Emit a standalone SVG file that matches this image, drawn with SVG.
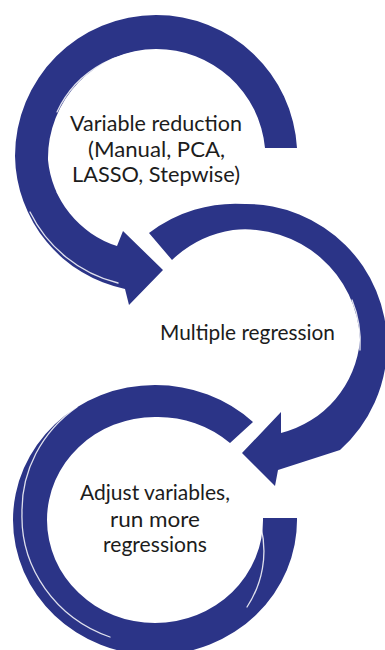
<svg xmlns="http://www.w3.org/2000/svg" width="385" height="650" viewBox="0 0 385 650">
<style>
.arc{fill:#2b3487;stroke:none}
.tex{fill:none;stroke:#ffffff;stroke-width:1.3;stroke-linecap:round;opacity:0.85}
.lbl{font-family:Lato,"Open Sans","Liberation Sans",sans-serif;font-size:21.5px;fill:#1c1c1c}
</style>
<rect width="385" height="650" fill="#ffffff"/>
<g id="connectors">
<g id="arrow-1">
<path class="arc" d="M297,148 A141,141 0 0 0 156,15 A141,141 0 0 0 15,156 A138,138 0 0 0 125,289 L129,305 L163,270 L123,231 L117,246 A100,100 0 0 1 48,160 A109,109 0 0 1 156,49 A109,109 0 0 1 265,148 Z"/>
<path class="tex" d="M168,52 A106,106 0 0 0 57,112"/>
<path class="tex" d="M30,212 A134,134 0 0 0 118,283"/>
<path class="tex" d="M57,192 A98,98 0 0 0 90,222"/>
</g>
<g id="arrow-2">
<path class="arc" d="M149,233 A142,142 0 0 1 245,204 A141,141 0 0 1 387,345 A141,141 0 0 1 340,450 L278,470 L275,486 L242,453 L281,412 L281,433 A105,105 0 0 0 360,340 A115,115 0 0 0 233,230 A113,113 0 0 0 172,260 Z"/>
<path class="tex" d="M352,300 A112,112 0 0 1 360,350"/>
</g>
<g id="arrow-3">
<path class="arc" d="M253,422 A142,135 0 0 0 155,385 A142,135 0 0 0 13,520 A142,135 0 0 0 155,655 A142,135 0 0 0 297,518 L263,518 A108,103 0 0 1 155,623 A108,103 0 0 1 47,520 A108,103 0 0 1 155,417 A108,103 0 0 1 230,443 Z"/>
<path class="tex" d="M77,407 A134,128 0 0 0 22,513 A134,128 0 0 0 110,637"/>
<path class="tex" d="M261,527 A110,105 0 0 1 247,607"/>
</g>
</g>
<g id="node-variable-reduction">
<text class="lbl" x="70" y="131" textLength="172" lengthAdjust="spacingAndGlyphs">Variable reduction</text>
<text class="lbl" x="88" y="157" textLength="137" lengthAdjust="spacingAndGlyphs">(Manual, PCA,</text>
<text class="lbl" x="72" y="182" textLength="168" lengthAdjust="spacingAndGlyphs">LASSO, Stepwise)</text>
</g>
<g id="node-multiple-regression">
<text class="lbl" x="160" y="340" textLength="175" lengthAdjust="spacingAndGlyphs">Multiple regression</text>
</g>
<g id="node-adjust">
<text class="lbl" x="80" y="500" textLength="150" lengthAdjust="spacingAndGlyphs">Adjust variables,</text>
<text class="lbl" x="110" y="527" textLength="90" lengthAdjust="spacingAndGlyphs">run more</text>
<text class="lbl" x="103" y="552" textLength="104" lengthAdjust="spacingAndGlyphs">regressions</text>
</g>
</svg>
